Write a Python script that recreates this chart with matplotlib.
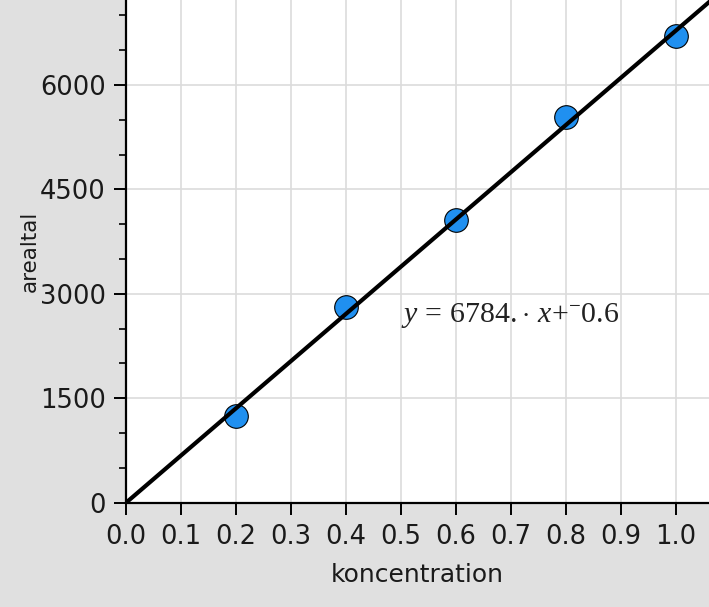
import matplotlib
matplotlib.use("Agg")
import matplotlib.pyplot as plt
from matplotlib.ticker import MultipleLocator
import numpy as np

# measured data
koncentration = [0.2, 0.4, 0.6, 0.8, 1.0]
arealtal = [1250, 2810, 4060, 5545, 6710]

# regression shown in the chart
slope = 6784.0
intercept = -0.6

x_ticks = [0.0, 0.1, 0.2, 0.3, 0.4, 0.5, 0.6, 0.7, 0.8, 0.9, 1.0]
y_ticks = [0, 1500, 3000, 4500, 6000]

plt.rcParams["mathtext.fontset"] = "custom"
plt.rcParams["mathtext.rm"] = "Liberation Serif"
plt.rcParams["mathtext.it"] = "Liberation Serif:italic"

fig = plt.figure(figsize=(7.09, 6.07), dpi=100, facecolor="#e0e0e0")
ax = fig.add_axes([126 / 709, 1 - 502.7 / 607, 1 - 126 / 709, 502.7 / 607])
ax.set_facecolor("white")

ax.set_xlim(0, 1.06)
ax.set_ylim(0, 7221)

ax.set_xticks(x_ticks)
ax.set_xticklabels([f"{t:.1f}" for t in x_ticks])
ax.set_yticks(y_ticks)
ax.yaxis.set_minor_locator(MultipleLocator(500))

ax.grid(True, which="major", color="#dcdcdc", linewidth=1.2)
ax.set_axisbelow(True)

for side in ("top", "right"):
    ax.spines[side].set_visible(False)
for side in ("left", "bottom"):
    ax.spines[side].set_linewidth(1.6)
    ax.spines[side].set_color("black")

ax.tick_params(axis="both", which="major", length=8.5, width=1.4,
               labelsize=18.5, color="black", labelcolor="#1a1a1a")
ax.tick_params(axis="x", pad=7)
ax.tick_params(axis="y", pad=6)
ax.tick_params(axis="y", which="minor", length=5, width=1.2)

# data points
ax.plot(koncentration, arealtal, "o", markersize=17, markerfacecolor="#2090f0",
        markeredgecolor="black", markeredgewidth=0.8, zorder=3, clip_on=False)

# fitted line
xs = np.array([0.0, 1.06])
ax.plot(xs, slope * xs + intercept, color="black", linewidth=3, zorder=4)

ax.text(0.5, 2590, r"$y\,=\,6784.\!\cdot\, x{+}^{-}0.6$", fontsize=21.5,
        color="#222222", ha="left", va="baseline")

ax.set_xlabel("koncentration", fontsize=18, labelpad=9, color="#1a1a1a")
ax.set_ylabel("arealtal", fontsize=15.5, labelpad=0, color="#1a1a1a")

plt.savefig("out.png", dpi=100, facecolor=fig.get_facecolor())
